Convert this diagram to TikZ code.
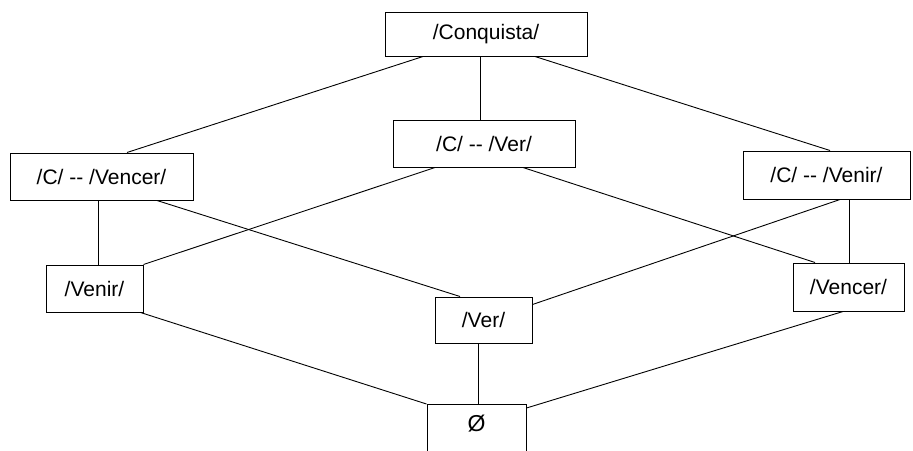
\documentclass[tikz,border=0pt]{standalone}
\usepackage{fontspec}
\setmainfont{Liberation Sans}
\usetikzlibrary{calc}

\begin{document}
\begin{tikzpicture}[x=1pt,y=-1pt,
    box/.style={draw, line width=1pt, inner sep=0pt, font=\fontsize{21}{25}\selectfont},
    link/.style={line width=0.9pt}]
          \useasboundingbox (0,0) rectangle (913,450);
          \clip (0,0) rectangle (913,450);
          % lattice nodes
          \node[box, minimum width=202, minimum height=44] (conq) at (486,34) {/Conquista/};
          \node[box, minimum width=183, minimum height=47] (cvencer) at (101.5,176.5) {/C/ -{}- /Vencer/};
          \node[box, minimum width=182, minimum height=47] (cver) at (484,143.5) {/C/ -{}- /Ver/};
          \node[box, minimum width=167, minimum height=48] (cvenir) at (826.5,175) {/C/ -{}- /Venir/};
          \node[box, minimum width=97, minimum height=47] (venir) at (94.5,288.5) {/Venir/};
          \node[box, minimum width=97, minimum height=46] (ver) at (483.5,320) {/Ver/};
          \node[box, minimum width=111, minimum height=48] (vencer) at (848.5,287) {/Vencer/};
          \node[box, minimum width=99, anchor=north, inner ysep=4, text height=23, text depth=30,
                font=\fontsize{23}{27}\selectfont] (empty) at (476.5,404) {Ø};
          % edges
          \draw[link] ($(conq.south)+(-63,0)$) -- ($(cvencer.north)+(25.5,0)$);
          \draw[link] ($(conq.south)+(-6,0)$) -- ($(cver.north)+(-4,0)$);
          \draw[link] ($(conq.south)+(49,0)$) -- ($(cvenir.north)+(3.5,0)$);
          \draw[link] ($(cvencer.south)+(-3.5,0)$) -- ($(venir.north)+(3.5,0)$);
          \draw[link] ($(cvencer.south)+(55.5,0)$) -- ($(ver.north)+(-23.5,0)$);
          \draw[link] ($(cver.south)+(-49,0)$) -- (venir.north east);
          \draw[link] ($(cver.south)+(39,0)$) -- ($(vencer.north)+(-33.5,0)$);
          \draw[link] ($(cvenir.south)+(22.5,0)$) -- ($(vencer.north)+(0.5,0)$);
          \draw[link] ($(cvenir.south)+(13.5,0)$) -- ($(ver.north east)+(0,8)$);
          \draw[link] ($(venir.south east)+(-3,0)$) -- (empty.north west);
          \draw[link] ($(ver.south)+(-5.5,0)$) -- ($(empty.north)+(1.5,0)$);
          \draw[link] ($(vencer.south)+(-5.5,0)$) -- ($(empty.north east)+(0,4)$);
      \end{tikzpicture}
\end{document}
